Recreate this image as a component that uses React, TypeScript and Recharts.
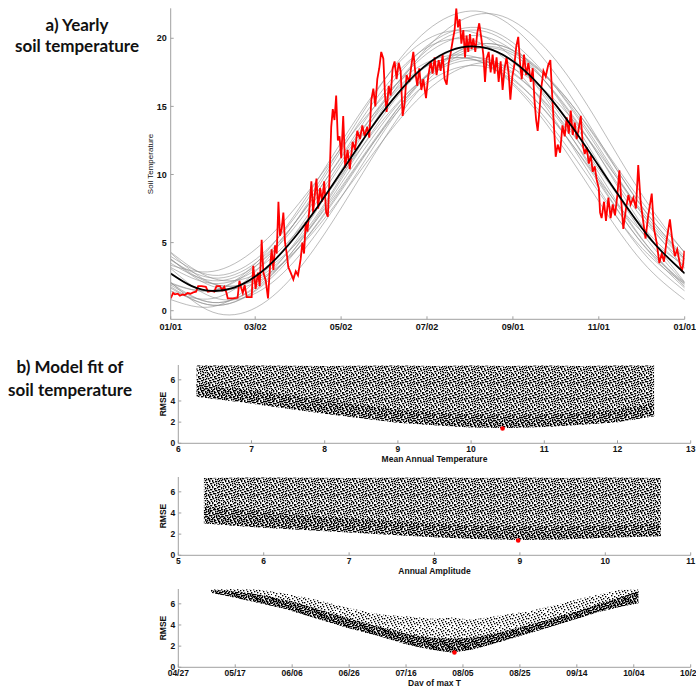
import React from 'react';
import { LineChart, ComposedChart, Line, Area, Scatter, XAxis, YAxis } from 'recharts';

// ---------------- a) Yearly soil temperature ----------------
const dayTicks = [0, 60, 121, 182, 243, 304, 365];
const dayTickLabels = ['01/01', '03/02', '05/02', '07/02', '09/01', '11/01', '01/01'];
const tempTicks = [0, 5, 10, 15, 20];

// best-fit model curve (black)
const fitDays = [0, 15, 30, 45, 60, 75, 90, 105, 120, 135, 150, 165, 180, 195, 210, 225, 240, 255, 270, 285, 300, 315, 330, 345, 365];
const fitTemps = [2.74, 1.81, 1.45, 1.69, 2.51, 3.85, 5.63, 7.73, 10.01, 12.31, 14.49, 16.4, 17.92, 18.94, 19.39, 19.25, 18.53, 17.27, 15.55, 13.5, 11.24, 8.93, 6.72, 4.75, 2.74];

// ensemble of candidate model curves (grey)
const ensembleDays = [0, 30, 61, 91, 121, 152, 182, 213, 243, 274, 304, 335, 365];
const ensembleRuns: number[][] = [
  [2.69, 1.4, 2.54, 5.72, 10.13, 14.74, 18.07, 19.4, 18.3, 15.01, 10.59, 5.99, 2.69],
  [3.49, 2.2, 3.34, 6.52, 10.93, 15.54, 18.87, 20.2, 19.1, 15.81, 11.39, 6.79, 3.49],
  [1.89, 0.6, 1.74, 4.92, 9.33, 13.94, 17.27, 18.6, 17.5, 14.21, 9.79, 5.19, 1.89],
  [2.03, 0.6, 1.86, 5.4, 10.3, 15.43, 19.12, 20.6, 19.38, 15.72, 10.82, 5.7, 2.03],
  [3.18, 2.0, 3.03, 5.94, 9.95, 14.16, 17.19, 18.4, 17.4, 14.4, 10.38, 6.18, 3.18],
  [3.99, 2.6, 3.82, 7.26, 12.01, 16.98, 20.57, 22.0, 20.82, 17.27, 12.51, 7.55, 3.99],
  [1.66, 0.4, 1.51, 4.63, 8.93, 13.45, 16.7, 18.0, 16.93, 13.71, 9.39, 4.89, 1.66],
  [2.05, 1.5, 3.54, 7.49, 12.36, 17.0, 19.92, 20.48, 18.52, 14.43, 9.56, 4.93, 2.05],
  [1.98, 1.49, 3.31, 6.85, 11.22, 15.38, 17.99, 18.5, 16.73, 13.08, 8.71, 4.56, 1.98],
  [3.34, 2.89, 4.58, 7.87, 11.93, 15.8, 18.23, 18.7, 17.06, 13.66, 9.6, 5.74, 3.34],
  [0.82, 0.3, 2.25, 6.04, 10.7, 15.15, 17.95, 18.49, 16.6, 12.69, 8.02, 3.59, 0.82],
  [2.1, -0.11, 0.25, 3.05, 7.53, 12.69, 16.85, 19.12, 18.78, 15.89, 11.39, 6.23, 2.1],
  [3.8, 1.78, 2.1, 4.67, 8.79, 13.53, 17.35, 19.44, 19.12, 16.47, 12.33, 7.6, 3.8],
  [4.3, 2.37, 2.68, 5.14, 9.07, 13.6, 17.25, 19.25, 18.94, 16.41, 12.45, 7.93, 4.3],
  [3.8, 1.96, 2.26, 4.6, 8.35, 12.67, 16.15, 18.05, 17.77, 15.34, 11.58, 7.27, 3.8],
  [4.24, 1.99, 2.36, 5.21, 9.79, 15.05, 19.3, 21.62, 21.27, 18.32, 13.72, 8.46, 4.24],
  [1.45, 0.9, 2.94, 6.89, 11.76, 16.4, 19.32, 19.88, 17.92, 13.83, 8.96, 4.33, 1.45],
  [3.1, 0.98, 1.32, 4.01, 8.31, 13.26, 17.25, 19.43, 19.1, 16.33, 12.01, 7.07, 3.1],
  [3.72, 2.4, 3.56, 6.82, 11.32, 16.04, 19.44, 20.8, 19.68, 16.31, 11.8, 7.09, 3.72],
  [1.76, 0.4, 1.6, 4.96, 9.61, 14.48, 17.99, 19.4, 18.24, 14.76, 10.1, 5.24, 1.76],
];

// observed soil temperature (red)
const obsDays = [
  0, 1.7, 3, 5, 6.5, 8.5, 10, 12, 14, 16, 18, 19.5, 22, 25, 26.5, 29, 31, 32.5, 35, 36.5, 38, 39.5, 40.5, 44, 47.5,
  48.8, 50, 51.2, 52.5, 54, 57.5, 58.6, 60.3, 62, 63.2, 64.6, 65.8, 67.5, 69.1, 70.5, 71.7, 72.9, 74.1, 75.3, 76.5,
  77.6, 78.8, 80, 81.2, 82.4, 83.5, 85.2, 87.1, 88.8, 90.4, 92.3, 93.5, 94.7, 95.9, 97.1, 98.5, 99.9, 101.1, 102.3,
  103.5, 104.7, 106.1, 107.5, 109, 110.4, 111.6, 112.8, 114, 115.1, 116.3, 117.5, 118.7, 119.9, 121.1, 122.5, 123.9,
  125.6, 127.2, 129.2, 130.9, 132.5, 134.4, 136.1, 137.7, 139.6, 141, 142.5, 143.9, 145.3, 146.7, 148.1, 149.5, 151,
  152.2, 153.3, 154.8, 156.2, 157.6, 159, 160.4, 161.9, 163.3, 164.7, 166.1, 167.5, 169.4, 170.9, 172.3, 173.7, 175.1,
  176.5, 178, 179.4, 181.3, 182.9, 184.6, 186, 187.4, 188.8, 190.3, 191.7, 193.1, 194.5, 196, 197.4, 198.8, 200.2,
  201.6, 202.8, 204, 205.2, 206.4, 207.8, 209, 210.1, 211.3, 212.5, 213.7, 214.9, 216.3, 217.7, 219.1, 220.6, 222,
  223.2, 224.3, 225.8, 227.2, 228.6, 230, 231.4, 232.9, 234.3, 235.7, 237.1, 238.5, 240, 241.2, 242.6, 244, 245.4,
  246.8, 248.2, 249.3, 250.9, 252.4, 254, 255.7, 257.1, 258.3, 259.5, 260.6, 261.8, 263.2, 264.7, 266.3, 268, 269.6,
  270.8, 272, 273.4, 274.8, 276.5, 278.2, 279.8, 281.2, 282.7, 284.1, 285.5, 286.9, 288.3, 289.8, 291.2, 292.6, 294,
  295.4, 296.9, 298.3, 299.7, 301.1, 302.5, 304, 304.9, 306, 307.7, 309.1, 310.8, 312.4, 313.9, 315.5, 317.2, 318.6,
  320, 321.4, 323.3, 325, 326.6, 328.5, 330.4, 332, 333.7, 335.6, 337.2, 339.1, 341.6, 343.2, 345.1, 347, 348.7, 350.3,
  352.2, 354.5, 356.4, 358, 359.7, 361.6, 363, 364, 364.8,
];
const obsTemps = [
  0.91, 1.3, 1.2, 1.25, 1.1, 1.2, 1.15, 1.3, 1.25, 1.35, 1.4, 1.8, 1.8, 1.75, 1.4, 1.45, 1.4, 1.8, 1.8, 1.5, 1.75, 1.35, 0.9, 0.9, 0.95,
  2.2, 1.7, 1.3, 1.9, 1.0, 1.0, 3.3, 1.6, 2.8, 1.8, 5.2, 2.8, 2.2, 0.9, 3.2, 4.5, 3.0, 4.8, 4.2, 8.0,
  5.5, 6.0, 7.2, 5.0, 4.2, 3.2, 2.8, 2.3, 2.9, 2.6, 3.8, 5.0, 4.2, 6.5, 5.8, 7.5, 9.5, 7.2, 8.5,
  9.7, 7.5, 9.0, 8.0, 9.5, 7.2, 6.9, 9.8, 13.5, 14.8, 14.0, 15.8, 12.5, 12.8, 11.2, 14.3, 10.5,
  11.8, 10.4, 12.4, 11.8, 13.2, 12.6, 13.6, 12.8, 13.5, 12.7, 15.5, 16.3, 15.0, 17.0, 17.8, 19.0, 18.5,
  15.8, 14.6, 16.5, 15.8, 17.8, 18.3, 17.0, 18.2, 17.6, 14.3, 15.2, 17.3, 16.8, 18.0, 19.0, 17.5, 16.5,
  17.8, 16.2, 17.0, 15.6, 17.2, 18.3, 17.4, 18.6, 17.3, 18.4, 17.6, 18.8, 17.0, 16.6, 18.2, 18.9, 19.8,
  20.6, 22.2, 20.8, 21.4, 19.6, 20.6, 18.6, 20.2, 19.0, 20.3, 19.2, 20.0, 19.0, 20.4, 21.1, 20.0, 18.8,
  16.8, 18.5, 19.0, 17.5, 18.8, 17.4, 18.6, 16.8, 18.3, 16.2, 17.8, 18.6, 17.4, 15.5, 17.2, 18.0, 19.4,
  20.1, 18.0, 17.0, 18.8, 17.3, 18.2, 16.8, 17.8, 15.5, 14.0, 13.2, 14.6, 16.4, 17.6, 17.2, 18.0, 18.4,
  16.0, 13.8, 11.3, 12.2, 11.6, 13.6, 12.8, 14.2, 13.0, 14.7, 12.9, 13.8, 12.6, 13.4, 14.3, 12.2, 11.5,
  12.0, 10.8, 11.4, 10.2, 10.6, 9.6, 9.0, 7.2, 6.8, 8.0, 6.6, 8.3, 6.8, 7.8, 7.0, 8.5, 10.3,
  8.0, 6.0, 7.5, 8.5, 7.8, 8.3, 7.5, 10.7, 8.0, 6.5, 5.3, 7.0, 8.6, 6.0, 5.0, 3.5, 4.2, 3.6,
  5.2, 6.7, 5.0, 4.0, 4.5, 3.4, 2.9, 3.5, 4.4,
];

// ---------------- b) Model fit (RMSE clouds) ----------------
const rmseTicks = [0, 2, 4, 6];

const matTicks = [6, 7, 8, 9, 10, 11, 12, 13];
const matX = [6.25, 7, 8, 9, 9.5, 10, 10.5, 11, 11.5, 12, 12.5];
const matLow = [4.4, 3.75, 2.8, 1.95, 1.7, 1.5, 1.45, 1.55, 1.75, 2.0, 2.55];
const matDense = [5.6, 5.0, 4.1, 3.2, 2.9, 2.7, 2.6, 2.7, 2.9, 3.2, 3.8];
const matHigh = [7.35, 7.35, 7.3, 7.35, 7.3, 7.35, 7.3, 7.35, 7.3, 7.35, 7.35];
const matBest = [{ x: 10.43, y: 1.4 }];

const ampTicks = [5, 6, 7, 8, 9, 10, 11];
const ampX = [5.3, 6, 7, 8, 8.5, 9, 9.5, 10, 10.65];
const ampLow = [3.0, 2.6, 2.15, 1.7, 1.55, 1.45, 1.5, 1.65, 1.8];
const ampDense = [4.6, 4.1, 3.5, 3.0, 2.8, 2.7, 2.7, 2.8, 3.0];
const ampHigh = [7.3, 7.35, 7.3, 7.35, 7.3, 7.35, 7.3, 7.35, 7.3];
const ampBest = [{ x: 8.98, y: 1.4 }];

const peakTicks = [117, 137, 157, 177, 197, 217, 237, 257, 277, 297];
const peakTickLabels = ['04/27', '05/17', '06/06', '06/26', '07/16', '08/05', '08/25', '09/14', '10/04', '10/24'];
const peakX = [128.5, 135, 145, 154, 165, 177, 188, 198, 206, 213, 220, 230, 240, 248, 257, 265, 272, 278.6];
const peakLow = [7.05, 6.7, 6.1, 5.55, 4.65, 3.7, 2.9, 2.1, 1.65, 1.4, 1.65, 2.4, 3.2, 3.85, 4.6, 5.25, 5.7, 6.05];
const peakDense = [7.3, 7.2, 6.9, 6.4, 5.6, 4.6, 3.8, 3.1, 2.8, 2.7, 2.8, 3.3, 4.0, 4.6, 5.3, 6.0, 6.6, 7.2];
const peakHigh = [7.35, 7.4, 7.35, 7.0, 6.4, 5.6, 5.0, 4.8, 4.6, 4.7, 4.5, 4.9, 5.3, 5.8, 6.4, 6.9, 7.3, 7.35];
const peakBest = [{ x: 214, y: 1.4 }];

// ---------------- styling ----------------
const FONT = '"Liberation Sans", Arial, sans-serif';
const TITLE_FONT = 'Lato, "Open Sans", sans-serif';
const AXIS = '#a0a0a0';
const tickStyle = { fontSize: 8.5, fontWeight: 700, fill: '#111', fontFamily: FONT };
// speckle texture used to render the dense point clouds
const speckle: [number, number][] = [
  [3, 0], [10, 0], [6, 1], [13, 1], [0, 2], [8, 2], [4, 3], [11, 3], [15, 3], [1, 4], [9, 4], [6, 5], [13, 5],
  [3, 6], [10, 6], [0, 7], [7, 7], [14, 7], [5, 8], [11, 8], [2, 9], [9, 9], [6, 10], [13, 10], [0, 11], [3, 11],
  [10, 11], [7, 12], [14, 12], [1, 13], [11, 13], [4, 14], [8, 14], [12, 15], [15, 15],
];

function Speckles({ id }: { id: string }) {
  const shifts: [string, string][] = [['A', ''], ['B', 'translate(7,3)'], ['C', 'translate(3,9)'], ['D', 'translate(11,12)']];
  return (
    <defs>
      {shifts.map(([k, t]) => (
        <pattern key={k} id={id + k} width={16} height={16} patternUnits="userSpaceOnUse" patternTransform={t || undefined}>
          {speckle.map(([x, y], i) => (
            <rect key={i} x={x} y={y} width={1.35} height={1.35} fill="#000" />
          ))}
        </pattern>
      ))}
    </defs>
  );
}

function RedDot(props: any) {
  const { cx, cy } = props;
  if (cx == null || cy == null) return null;
  return <circle cx={cx} cy={cy} r={2.3} fill="#ff0000" />;
}

function Txt({ x, y, children, size = 8.5, bold = true, rotate = false, family = FONT }: any) {
  return (
    <div
      style={{
        position: 'absolute', left: x, top: y, transform: `translate(-50%,-50%)${rotate ? ' rotate(-90deg)' : ''}`,
        fontSize: size, lineHeight: 1, fontWeight: bold ? 700 : 400, fontFamily: family, whiteSpace: 'nowrap', color: '#111',
      }}
    >
      {children}
    </div>
  );
}

function CloudPanel({ top, id, xs, low, dense, high, domain, ticks, labels, best, heavy }: any) {
  const full = xs.map((x: number, i: number) => ({ x, band: [low[i], high[i]] }));
  const core = xs.map((x: number, i: number) => ({ x, band: [low[i], dense[i]] }));
  return (
    <div style={{ position: 'absolute', left: 0, top: top - 10 }}>
      <ComposedChart width={696} height={105} margin={{ top: 10, right: 5.3, bottom: 0, left: 148.3 }}>
        <Speckles id={id} />
        <XAxis
          type="number" dataKey="x" domain={domain} ticks={ticks} interval={0} allowDataOverflow height={16.7}
          tickFormatter={labels ? (v: number) => labels[ticks.indexOf(v)] : undefined}
          tick={tickStyle} tickSize={-3} tickMargin={6} axisLine={{ stroke: AXIS }} tickLine={{ stroke: AXIS }}
        />
        <YAxis
          type="number" domain={[0, 7.4]} ticks={rmseTicks} interval={0} allowDataOverflow width={30}
          tick={tickStyle} tickSize={-3} tickMargin={6} axisLine={{ stroke: AXIS }} tickLine={{ stroke: AXIS }}
        />
        <Area data={full} dataKey="band" type="linear" stroke="none" fill={`url(#${id}A)`} fillOpacity={1} isAnimationActive={false} />
        {!heavy && <Area data={full} dataKey="band" type="linear" stroke="none" fill={`url(#${id}B)`} fillOpacity={1} isAnimationActive={false} />}
        <Area data={core} dataKey="band" type="linear" stroke="none" fill={`url(#${id}C)`} fillOpacity={1} isAnimationActive={false} />
        {heavy && <Area data={core} dataKey="band" type="linear" stroke="none" fill={`url(#${id}B)`} fillOpacity={1} isAnimationActive={false} />}
        {heavy && <Area data={core} dataKey="band" type="linear" stroke="none" fill={`url(#${id}D)`} fillOpacity={1} isAnimationActive={false} />}
        <Scatter data={best} dataKey="y" shape={RedDot} isAnimationActive={false} />
      </ComposedChart>
    </div>
  );
}

export default function App() {
  const fitData = fitDays.map((d, i) => ({ day: d, t: fitTemps[i] }));
  const runs = ensembleRuns.map((vals) => ensembleDays.map((d, i) => ({ day: d, t: vals[i] })));
  const obsData = obsDays.map((d, i) => ({ day: d, t: obsTemps[i] }));

  return (
    <div style={{ position: 'absolute', left: 0, top: 0, width: 696, height: 686, background: '#fff', overflow: 'hidden', fontFamily: FONT }}>
      <div
        style={{
          position: 'absolute', left: 77, top: 35, transform: 'translate(-50%,-50%)', fontFamily: TITLE_FONT,
          fontWeight: 700, fontSize: 17, lineHeight: '21px', textAlign: 'center', whiteSpace: 'nowrap', color: '#111',
        }}
      >
        a) Yearly<br />soil temperature
      </div>
      <div
        style={{
          position: 'absolute', left: 70, top: 378, transform: 'translate(-50%,-50%)', fontFamily: TITLE_FONT,
          fontWeight: 700, fontSize: 17, lineHeight: '23px', textAlign: 'center', whiteSpace: 'nowrap', color: '#111',
        }}
      >
        b) Model fit of<br />soil temperature
      </div>

      <div style={{ position: 'absolute', left: 0, top: 0 }}>
        <LineChart width={696} height={345} margin={{ top: 8.3, right: 11.3, bottom: 5.7, left: 130.7 }}>
          <XAxis
            type="number" dataKey="day" domain={[0, 365]} ticks={dayTicks} interval={0} allowDataOverflow height={20}
            tickFormatter={(v: number, i: number) => dayTickLabels[i]}
            tick={{ ...tickStyle, fontSize: 9 }} tickSize={-3} tickMargin={7} axisLine={{ stroke: AXIS }} tickLine={{ stroke: AXIS }}
          />
          <YAxis
            type="number" domain={[-0.63, 22.2]} ticks={tempTicks} interval={0} allowDataOverflow width={40}
            tick={{ ...tickStyle, fontSize: 9 }} tickSize={-3} tickMargin={7} axisLine={{ stroke: AXIS }} tickLine={{ stroke: AXIS }}
          />
          {runs.map((r, k) => (
            <Line key={k} data={r} dataKey="t" type="natural" stroke="#8f8f8f" strokeWidth={0.6} dot={false} isAnimationActive={false} />
          ))}
          <Line data={obsData} dataKey="t" type="linear" stroke="#ff0000" strokeWidth={1.8} dot={false} isAnimationActive={false} />
          <Line data={fitData} dataKey="t" type="natural" stroke="#000" strokeWidth={1.8} dot={false} isAnimationActive={false} />
        </LineChart>
      </div>
      <Txt x={151} y={163.8} size={8} bold={false} rotate>Soil Temperature</Txt>

      <CloudPanel top={365} id="mat" xs={matX} low={matLow} dense={matDense} high={matHigh} domain={[6, 13]} ticks={matTicks} best={matBest} />
      <Txt x={163.3} y={404} rotate>RMSE</Txt>
      <Txt x={434.5} y={458.5}>Mean Annual Temperature</Txt>

      <CloudPanel top={477.3} id="amp" xs={ampX} low={ampLow} dense={ampDense} high={ampHigh} domain={[5, 11]} ticks={ampTicks} best={ampBest} />
      <Txt x={163.3} y={516.3} rotate>RMSE</Txt>
      <Txt x={434.5} y={571}>Annual Amplitude</Txt>

      <CloudPanel top={589.3} id="peak" xs={peakX} low={peakLow} dense={peakDense} high={peakHigh} domain={[117, 297]} ticks={peakTicks} labels={peakTickLabels} best={peakBest} heavy />
      <Txt x={163.3} y={628.3} rotate>RMSE</Txt>
      <Txt x={434.5} y={682.7}>Day of max T</Txt>
    </div>
  );
}
